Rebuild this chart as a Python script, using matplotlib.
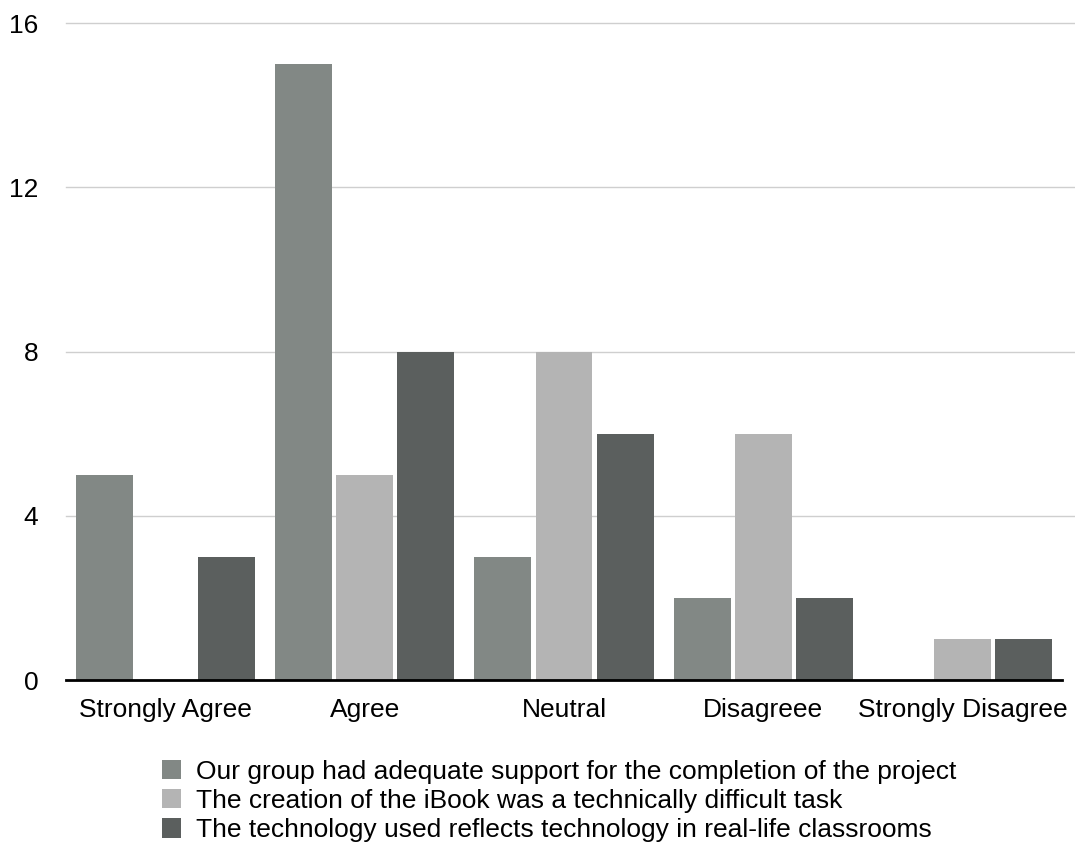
import matplotlib
matplotlib.use("Agg")
import matplotlib.pyplot as plt
import numpy as np
from matplotlib.patches import Patch

plt.rcParams["font.family"] = ["Liberation Sans", "DejaVu Sans"]

CATEGORIES = ["Strongly Agree", "Agree", "Neutral", "Disagreee", "Strongly Disagree"]
SERIES = [
    "Our group had adequate support for the completion of the project",
    "The creation of the iBook was a technically difficult task",
    "The technology used reflects technology in real-life classrooms",
]
SUPPORT = [5, 15, 3, 2, 0]
DIFFICULT = [0, 5, 8, 6, 1]
REAL_LIFE = [3, 8, 6, 2, 1]
COLORS = ["#828885", "#b4b4b4", "#5b5f5e"]
Y_TICKS = [0, 4, 8, 12, 16]


def main():
    fig = plt.figure(figsize=(10.75, 8.46), dpi=100)
    ax = fig.add_axes([66 / 1075, 1 - 680 / 846, (1062 - 66) / 1075, (680 - 23) / 846])

    x = np.arange(len(CATEGORIES))
    width = 0.286
    step = 0.307
    for i, (vals, color) in enumerate(zip([SUPPORT, DIFFICULT, REAL_LIFE], COLORS)):
        ax.bar(x + (i - 1) * step, vals, width=width, color=color, zorder=2)

    ax.set_xlim(-0.5, len(CATEGORIES) - 0.5)
    ax.set_ylim(0, 16)
    ax.set_yticks(Y_TICKS)
    ax.set_yticklabels([str(t) for t in Y_TICKS], fontsize=19)
    ax.set_xticks(x)
    ax.set_xticklabels(CATEGORIES, fontsize=19)
    ax.tick_params(axis="y", length=0, pad=20)
    ax.tick_params(axis="x", length=0, pad=13)

    for t in Y_TICKS[1:]:
        ax.axhline(t, color="#cfcfcf", linewidth=1, zorder=1, xmax=1.012, clip_on=False)

    for side in ["top", "right", "left"]:
        ax.spines[side].set_visible(False)
    ax.spines["bottom"].set_linewidth(2)
    ax.spines["bottom"].set_color("black")
    ax.spines["bottom"].set_zorder(3)

    handles = [Patch(facecolor=c, edgecolor="none") for c in COLORS]
    fig.legend(
        handles,
        SERIES,
        loc="upper left",
        bbox_to_anchor=(151 / 1075, 1 - 749 / 846),
        frameon=False,
        fontsize=19,
        handlelength=0.75,
        handleheight=0.75,
        handletextpad=0.55,
        labelspacing=0.2,
        borderaxespad=0,
    )

    fig.savefig("out.png", dpi=100)
    plt.close(fig)


if __name__ == "__main__":
    main()
